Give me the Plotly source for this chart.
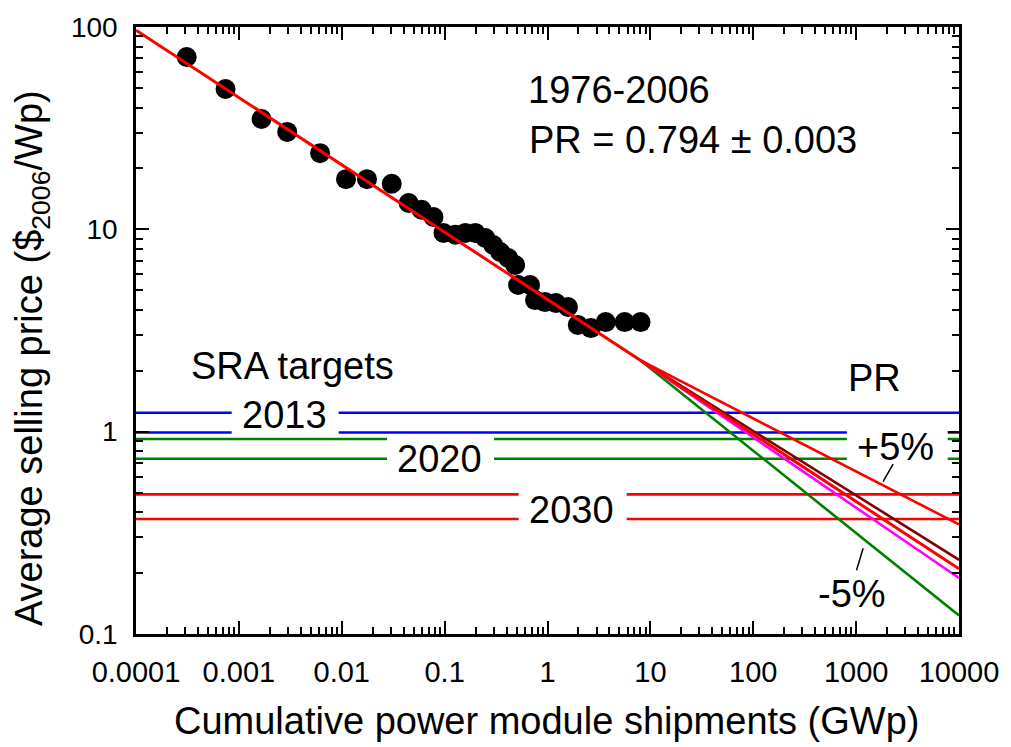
import numpy as np
import plotly.graph_objects as go

# Historical PV module learning data, 1976-2006
cum_shipments_gwp = [0.000311, 0.000742, 0.00166, 0.00295, 0.00616, 0.0110, 0.0176,
                     0.0306, 0.0447, 0.0598, 0.0780, 0.0975, 0.127, 0.159, 0.199,
                     0.249, 0.297, 0.347, 0.415, 0.485, 0.518, 0.677, 0.757, 0.946,
                     1.21, 1.58, 1.97, 2.64, 3.68, 5.62, 8.03]
price_usd2006 = [71.1, 49.4, 35.1, 30.3, 23.8, 17.7, 17.7, 16.8, 13.5, 12.5, 11.5,
                 9.6, 9.4, 9.6, 9.6, 9.06, 8.37, 7.73, 7.22, 6.66, 5.31, 5.31, 4.47,
                 4.37, 4.32, 4.13, 3.37, 3.25, 3.48, 3.48, 3.48]

# Experience-curve fit: price = P1 * x^log2(PR)
pr_fit = 0.794
price_at_1gwp = 4.5

# Extrapolations beyond 2006 with PR changed by -5%, -1%, +1%, +5%
projection_pr = [0.754, 0.786, 0.802, 0.834]
projection_colors = ["#008000", "#ff00ff", "#800000", "#ff0000"]

# SRA price targets (upper / lower bounds)
sra_years = ["2013", "2020", "2030"]
sra_upper = [1.24, 0.92, 0.49]
sra_lower = [0.99, 0.735, 0.37]
sra_colors = ["#0000ff", "#008000", "#ff0000"]

x_min, x_max = 1e-4, 1e4
x_ticks = [1e-4, 1e-3, 1e-2, 1e-1, 1, 10, 100, 1000, 10000]
x_ticktext = ["0.0001", "0.001", "0.01", "0.1", "1", "10", "100", "1000", "10000"]
y_ticks = [0.1, 1, 10, 100]
y_ticktext = ["0.1", "1", "10", "100"]
LOGX_RANGE = [-4, 4]
LOGY_RANGE = [-1, 2]

FONT = "Liberation Sans, Arial, Helvetica, sans-serif"


def learning_curve(x, pr, x0, p0):
    return p0 * (np.asarray(x) / x0) ** np.log2(pr)


def px_x(lx):
    """log10 x -> paper fraction"""
    return (lx - LOGX_RANGE[0]) / (LOGX_RANGE[1] - LOGX_RANGE[0])


def px_y(ly):
    """log10 y -> paper fraction"""
    return (ly - LOGY_RANGE[0]) / (LOGY_RANGE[1] - LOGY_RANGE[0])


fig = go.Figure()

# Horizontal target bands
for year, hi, lo, col in zip(sra_years, sra_upper, sra_lower, sra_colors):
    for val in (hi, lo):
        fig.add_trace(go.Scatter(x=[x_min, x_max], y=[val, val], mode="lines",
                                 line=dict(color=col, width=2.6),
                                 showlegend=False, hoverinfo="skip"))

# Projections from the last data point
x_start = cum_shipments_gwp[-1]
p_start = float(learning_curve(x_start, pr_fit, 1.0, price_at_1gwp))
for pr, col in zip(projection_pr, projection_colors):
    xs = [x_start, x_max]
    fig.add_trace(go.Scatter(x=xs, y=learning_curve(xs, pr, x_start, p_start),
                             mode="lines", line=dict(color=col, width=2.6),
                             showlegend=False, hoverinfo="skip"))

# Data
fig.add_trace(go.Scatter(x=cum_shipments_gwp, y=price_usd2006, mode="markers",
                         marker=dict(color="black", size=20, line=dict(width=0)),
                         showlegend=False))

# Fit line over the full range
fit_x = [x_min, x_max]
fig.add_trace(go.Scatter(x=fit_x, y=learning_curve(fit_x, pr_fit, 1.0, price_at_1gwp),
                         mode="lines", line=dict(color="#ff0000", width=3),
                         showlegend=False, hoverinfo="skip"))

# White label boxes (log10 x0, x1, y0, y1) that break the target lines
label_boxes = [
    (-3.07, -2.03, -0.024, 0.137),   # 2013
    (-1.56, -0.52, -0.229, -0.019),  # 2020
    (-0.28, 0.77, -0.476, -0.274),   # 2030
    (2.91, 3.89, -0.155, 0.028),     # +5%
]
shapes = []
for x0, x1, y0, y1 in label_boxes:
    shapes.append(dict(type="rect", xref="paper", yref="paper",
                       x0=px_x(x0), x1=px_x(x1), y0=px_y(y0), y1=px_y(y1),
                       fillcolor="white", line=dict(width=0), layer="above"))

# Leader lines for the +5% / -5% labels (log10 coordinates)
leaders = [
    (3.262, -0.247, 3.359, -0.160),
    (3.068, -0.576, 3.004, -0.685),
]
for x0, y0, x1, y1 in leaders:
    shapes.append(dict(type="line", xref="paper", yref="paper",
                       x0=px_x(x0), y0=px_y(y0), x1=px_x(x1), y1=px_y(y1),
                       line=dict(color="black", width=1.5), layer="above"))

big = dict(family=FONT, size=38, color="black")
annotations = [
    dict(x=-0.208, y=1.689, text="1976-2006", xanchor="left"),
    dict(x=-0.198, y=1.442, text="PR = 0.794 ± 0.003", xanchor="left"),
    dict(x=-3.487, y=0.325, text="SRA targets", xanchor="left"),
    dict(x=3.178, y=0.265, text="PR", xanchor="center"),
    dict(x=-2.554, y=0.082, text="2013", xanchor="center"),
    dict(x=-1.054, y=-0.135, text="2020", xanchor="center"),
    dict(x=0.232, y=-0.387, text="2030", xanchor="center"),
    dict(x=3.381, y=-0.076, text="+5%", xanchor="center"),
    dict(x=2.955, y=-0.803, text="-5%", xanchor="center"),
]
annotations = [dict(a, xref="x", yref="y", yanchor="middle", showarrow=False, font=big)
               for a in annotations]

# Axis titles
annotations.append(dict(text="Cumulative power module shipments (GWp)", xref="paper", yref="paper",
                        x=0.499, y=-0.143, xanchor="center", yanchor="middle",
                        showarrow=False, font=big))
annotations.append(dict(text="Average selling price ($<sub>2006</sub>/Wp)", xref="paper",
                        yref="paper", x=-0.126, y=0.455, xanchor="center", yanchor="middle",
                        textangle=-90, showarrow=False, font=big))

x_minor = [k * 10.0 ** e for e in range(-4, 4) for k in range(2, 10)]
y_minor = [k * 10.0 ** e for e in range(-1, 2) for k in range(2, 10)]

axis_common = dict(type="log", showgrid=False, zeroline=False, showline=True,
                   linecolor="black", linewidth=2.5, mirror="allticks",
                   ticks="inside", ticklen=13, tickwidth=2, tickcolor="black",
                   tickmode="array", ticklabelstandoff=10)

fig.update_layout(
    width=1011, height=747,
    margin=dict(l=136, r=48, t=27, b=113),
    plot_bgcolor="white", paper_bgcolor="white",
    font=dict(family=FONT, color="black"),
    showlegend=False,
    shapes=shapes,
    annotations=annotations,
    xaxis=dict(axis_common, range=LOGX_RANGE, tickvals=x_ticks, ticktext=x_ticktext,
               tickfont=dict(family=FONT, size=29, color="black"),
               minor=dict(ticks="inside", ticklen=7, tickwidth=1.5, tickcolor="black",
                          tickmode="array", tickvals=x_minor, showgrid=False)),
    yaxis=dict(axis_common, range=LOGY_RANGE, tickvals=y_ticks, ticktext=y_ticktext,
               tickfont=dict(family=FONT, size=28, color="black"),
               minor=dict(ticks="inside", ticklen=7, tickwidth=1.5, tickcolor="black",
                          tickmode="array", tickvals=y_minor, showgrid=False)),
)

fig.write_html("out.html", config={"displayModeBar": False})
